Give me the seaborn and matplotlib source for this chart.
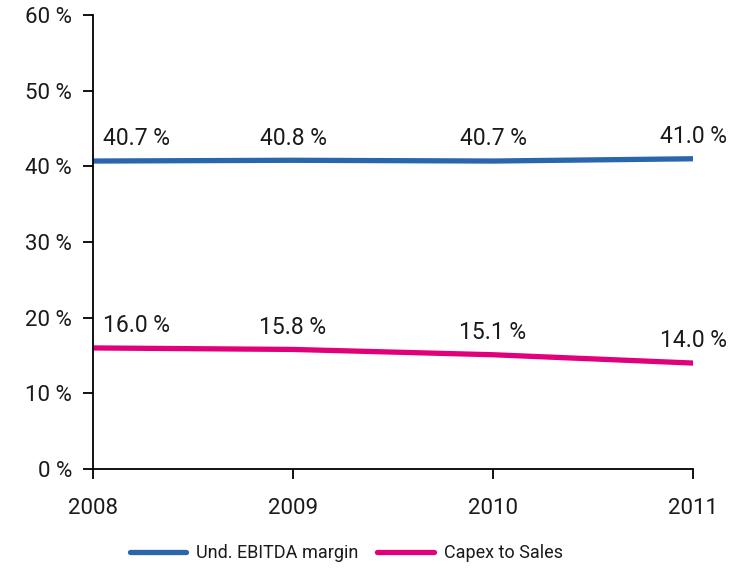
import pandas as pd
import seaborn as sns
import matplotlib.pyplot as plt

# Data
years = [2008, 2009, 2010, 2011]
ebitda_margin = [40.7, 40.8, 40.7, 41.0]
capex_to_sales = [16.0, 15.8, 15.1, 14.0]
series_names = ["Und. EBITDA margin", "Capex to Sales"]
colors = ["#2966ac", "#e2007a"]

df = pd.DataFrame({
    "year": years * 2,
    "value": ebitda_margin + capex_to_sales,
    "series": [series_names[0]] * 4 + [series_names[1]] * 4,
})

sns.set_style("ticks")
plt.rcParams["font.family"] = ["Roboto", "DejaVu Sans"]

text_color = "#1a1a1a"

fig = plt.figure(figsize=(7.37, 5.68), dpi=100)
ax = fig.add_axes([0.1262, 0.1743, 0.8141, 0.7993])

sns.lineplot(data=df, x="year", y="value", hue="series", palette=colors,
             linewidth=3.8, ax=ax, legend=True)
for line in ax.lines:
    line.set_solid_capstyle("round")

# Value labels
for vals in [ebitda_margin, capex_to_sales]:
    for i, (x, v) in enumerate(zip(years, vals)):
        ha = "left" if i == 0 else "center"
        dx = 7 if i == 0 else 0
        ax.annotate(f"{v:.1f} %", (x, v), xytext=(dx, 16), textcoords="offset points",
                    ha=ha, va="center", fontsize=16.5, color=text_color)

ax.set_xlim(2008, 2011)
ax.set_ylim(0, 60)
ax.set_xticks(years)
ax.set_xticklabels([str(y) for y in years])
ax.set_yticks(range(0, 61, 10))
ax.set_yticklabels([f"{v} %" for v in range(0, 61, 10)])
ax.tick_params(axis="both", labelsize=16, length=7, width=1.3, colors="#000000",
               labelcolor=text_color)
ax.tick_params(axis="x", pad=14)
ax.tick_params(axis="y", pad=8)
ax.set_xlabel("")
ax.set_ylabel("")
sns.despine(ax=ax)
for s in ["left", "bottom"]:
    ax.spines[s].set_linewidth(1.3)
    ax.spines[s].set_color("#000000")

ax.legend(loc="upper center", bbox_to_anchor=(0.4695, 0.071),
          bbox_transform=fig.transFigure, ncol=2, frameon=False,
          fontsize=13, handlelength=3.15, columnspacing=1.0, handletextpad=0.55,
          labelcolor=text_color)

fig.savefig("out.png", dpi=100)
